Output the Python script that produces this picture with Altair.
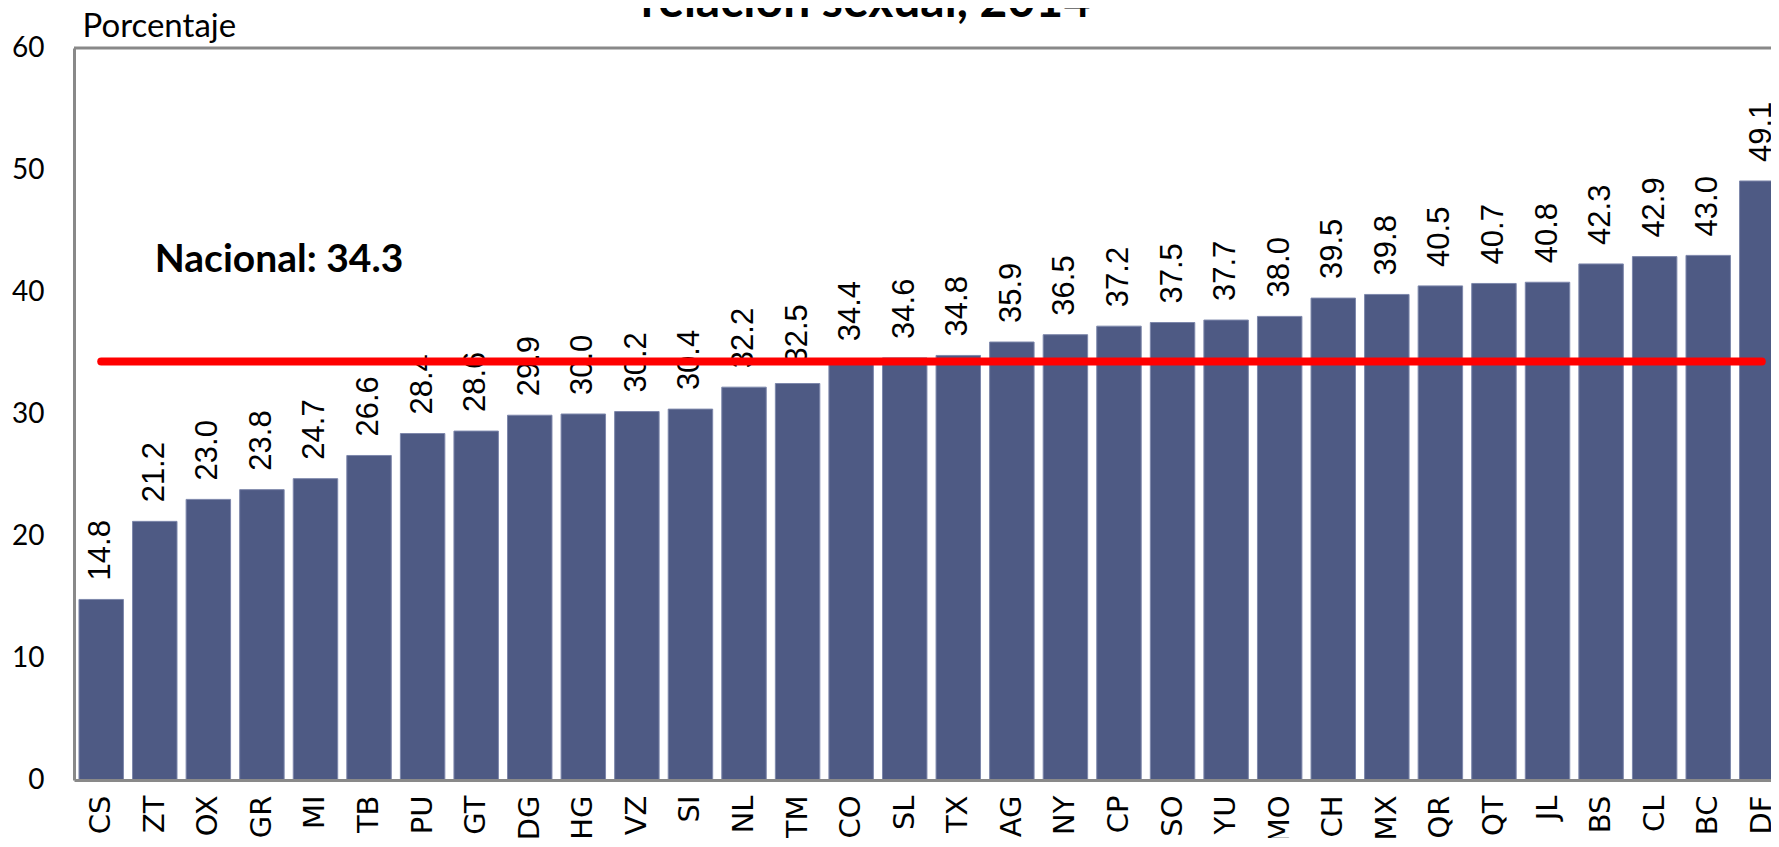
import altair as alt
import pandas as pd

categories = ["CS", "ZT", "OX", "GR", "MI", "TB", "PU", "GT", "DG", "HG", "VZ", "SI",
              "NL", "TM", "CO", "SL", "TX", "AG", "NY", "CP", "SO", "YU", "MO", "CH",
              "MX", "QR", "QT", "JL", "BS", "CL", "BC", "DF"]
values = [14.8, 21.2, 23.0, 23.8, 24.7, 26.6, 28.4, 28.6, 29.9, 30.0, 30.2, 30.4,
          32.2, 32.5, 34.4, 34.6, 34.8, 35.9, 36.5, 37.2, 37.5, 37.7, 38.0, 39.5,
          39.8, 40.5, 40.7, 40.8, 42.3, 42.9, 43.0, 49.1]
national = 34.3
national_label = "Nacional: 34.3"
national_label_anchor = "ZT"
y_ticks = [0, 10, 20, 30, 40, 50, 60]
title_text = "relación sexual, 2014"

df = pd.DataFrame({"estado": categories, "valor": values})
df["nacional"] = national
note = pd.DataFrame({"estado": [national_label_anchor], "valor": [national], "texto": [national_label]})
top = pd.DataFrame({"y": [60]})
title_df = pd.DataFrame({"texto": [title_text]})

x_scale = alt.Scale(domain=categories, range=[0, 1715], paddingInner=0.17, paddingOuter=0.093)
y_scale = alt.Scale(domain=[0, 60], nice=False)

x_enc = alt.X("estado:N", scale=x_scale, sort=categories,
              axis=alt.Axis(title=None, labelAngle=270, labelAlign="right", labelBaseline="middle",
                            labelPadding=15, ticks=False, labelFont="DejaVu Sans", labelFontSize=29,
                            labelColor="black", domainColor="#898989", domainWidth=3, zindex=1,
                            labelOverlap=False))
y_enc = alt.Y("valor:Q", scale=y_scale,
              axis=alt.Axis(title="Porcentaje", titleAngle=0, titleX=8, titleY=-12,
                            titleAlign="left", titleBaseline="alphabetic", titleFont="Lato",
                            titleFontSize=33, titleFontWeight="normal", titleColor="black",
                            values=y_ticks, grid=False, ticks=False, labelPadding=30,
                            labelFont="Lato", labelFontSize=28, labelColor="black",
                            domainColor="#898989", domainWidth=3, zindex=1))

bars = alt.Chart(df).mark_bar(color="#4E5A84", stroke="#7D87AB", strokeWidth=1).encode(x=x_enc, y=y_enc)

labels = alt.Chart(df).mark_text(angle=270, align="left", baseline="middle", dx=19,
                                 font="Liberation Sans", fontSize=31, color="black").encode(
    x=alt.X("estado:N", scale=x_scale, sort=categories),
    y=alt.Y("valor:Q", scale=y_scale),
    text=alt.Text("valor:Q", format=".1f"))

line = alt.Chart(df).mark_line(color="#FF0000", strokeWidth=8, strokeCap="round").encode(
    x=alt.X("estado:N", scale=x_scale, sort=categories),
    y=alt.Y("nacional:Q", scale=y_scale))

note_text = alt.Chart(note).mark_text(align="left", baseline="alphabetic", dx=0, dy=-90,
                                      font="Lato", fontSize=39, fontWeight="bold", color="black").encode(
    x=alt.X("estado:N", scale=x_scale, sort=categories),
    y=alt.Y("valor:Q", scale=y_scale),
    text="texto:N")

top_border = alt.Chart(top).mark_rule(color="#898989", strokeWidth=3).encode(
    y=alt.Y("y:Q", scale=y_scale))

title_mark = alt.Chart(title_df).mark_text(align="center", baseline="alphabetic",
                                           font="Lato", fontSize=48, fontWeight="bold",
                                           color="black").encode(
    x=alt.value(792), y=alt.value(-31), text="texto:N")

chart = alt.layer(bars, labels, line, note_text, top_border, title_mark).properties(
    width=1697, height=732,
    autosize=alt.AutoSizeParams(type="none"),
    padding={"left": 66, "top": 40, "right": 0, "bottom": 58},
).configure_view(stroke=None)

chart.save("out.html", embed_options={"renderer": "svg", "actions": False})
